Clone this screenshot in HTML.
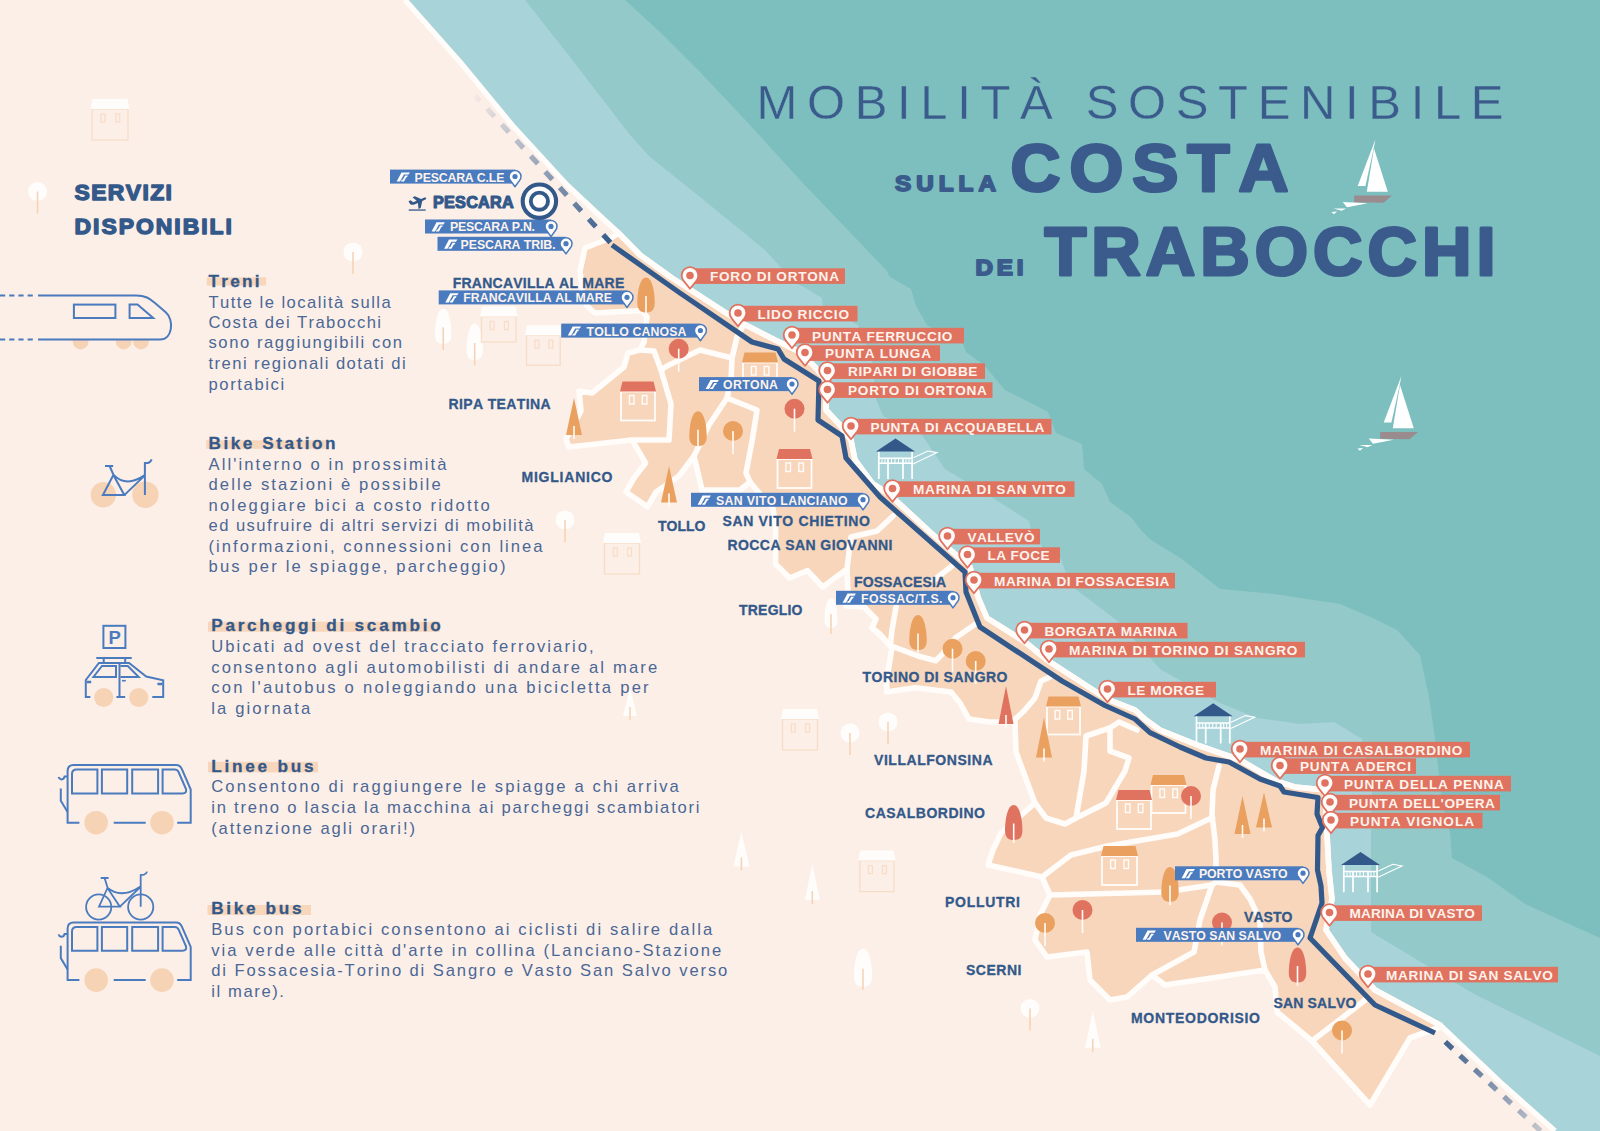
<!DOCTYPE html>
<html><head><meta charset="utf-8"><title>Costa dei Trabocchi</title>
<style>html,body{margin:0;padding:0;background:#fcefe7}body{width:1600px;height:1131px;overflow:hidden;font-family:"Liberation Sans",sans-serif}</style></head>
<body>
<svg width="1600" height="1131" viewBox="0 0 1600 1131" font-family="Liberation Sans, sans-serif" style="display:block;font-kerning:none">
<defs>
<linearGradient id="gd1" gradientUnits="userSpaceOnUse" x1="470" y1="90" x2="612" y2="245"><stop offset="0" stop-color="#33598a" stop-opacity="0"/><stop offset="0.12" stop-color="#33598a" stop-opacity="0.12"/><stop offset="1" stop-color="#33598a" stop-opacity="1"/></linearGradient>
<linearGradient id="gd2" gradientUnits="userSpaceOnUse" x1="1435" y1="1033" x2="1545" y2="1136"><stop offset="0" stop-color="#33598a" stop-opacity="1"/><stop offset="1" stop-color="#33598a" stop-opacity="0.25"/></linearGradient>
</defs>
<rect width="1600" height="1131" fill="#fcefe7"/>
<polygon fill="#a8d3d9" points="405.0,0.0 460.0,62.0 512.0,125.0 567.0,185.0 598.5,214.5 618.0,232.5 640.0,255.0 672.0,278.0 700.0,296.0 740.0,322.0 775.0,340.0 800.0,352.0 815.0,367.0 826.0,380.0 826.0,410.0 840.0,425.0 851.0,440.0 855.0,460.0 872.0,483.0 890.0,495.0 930.0,532.0 970.0,567.0 978.0,597.0 987.0,618.0 1025.0,642.0 1047.0,660.0 1107.0,699.0 1135.0,710.0 1146.0,720.0 1160.0,730.0 1200.0,746.0 1240.0,760.0 1276.0,781.0 1295.0,787.0 1325.0,790.0 1326.0,815.0 1327.0,834.0 1329.0,871.0 1332.0,899.0 1326.0,930.0 1345.0,958.0 1375.0,990.0 1440.0,1025.0 1500.0,1082.0 1555.0,1131.0 1600.0,1131.0 1600.0,0.0"/>
<polygon fill="#94c9c9" points="525.0,0.0 570.0,57.0 630.0,135.0 650.0,157.0 700.0,197.0 765.0,250.0 795.0,283.0 806.0,288.0 822.0,298.0 823.0,306.0 858.0,325.0 872.0,360.0 876.0,399.0 883.0,416.0 922.0,435.0 945.0,469.0 996.0,500.0 1029.0,521.0 1031.0,531.0 1044.0,549.0 1061.0,559.0 1070.0,585.0 1119.0,622.0 1160.0,669.0 1220.0,703.0 1257.0,718.0 1300.0,724.0 1334.0,722.0 1362.0,739.0 1372.0,790.0 1371.0,834.0 1371.0,932.0 1474.0,994.0 1600.0,1056.0 1600.0,0.0"/>
<polygon fill="#7dbfbe" points="625.0,0.0 660.0,32.0 700.0,72.0 750.0,125.0 800.0,180.0 886.0,270.0 890.0,277.0 911.0,289.0 916.0,306.0 927.0,325.0 963.0,344.0 966.0,352.0 984.0,365.0 1005.0,390.0 1027.0,401.0 1048.0,412.0 1056.0,433.0 1082.0,444.0 1084.0,469.0 1102.0,484.0 1110.0,502.0 1131.0,517.0 1140.0,529.0 1151.0,540.0 1182.0,559.0 1220.0,589.0 1274.0,594.0 1340.0,604.0 1375.0,619.0 1397.0,630.0 1420.0,655.0 1429.0,697.0 1435.0,739.0 1442.0,802.0 1450.0,832.0 1452.0,858.0 1487.0,877.0 1525.0,904.0 1600.0,938.0 1600.0,0.0"/>
<polygon fill="#f7d6bc" stroke="#fffcf9" stroke-width="5.6" stroke-linejoin="round" points="613.0,237.0 585.0,248.0 580.0,271.0 583.0,295.0 587.0,306.0 595.0,313.0 642.0,310.5 647.0,317.0 644.0,342.0 640.0,350.0 628.0,353.0 624.0,367.0 592.0,393.0 579.0,391.0 581.0,411.0 572.0,428.0 566.0,439.0 569.0,447.0 632.0,440.0 645.5,463.0 634.0,478.0 626.0,492.0 647.6,506.7 656.0,492.0 679.0,476.0 694.0,456.0 702.0,490.0 740.0,490.0 750.0,482.0 765.0,500.0 773.0,508.0 775.6,527.0 775.6,564.0 789.6,578.0 807.5,570.6 822.7,587.0 847.0,569.0 848.0,590.0 846.0,606.0 864.0,607.0 876.0,619.0 872.0,628.0 885.0,640.0 892.0,647.0 890.0,660.0 887.0,678.0 886.6,692.0 915.0,687.7 951.0,692.0 960.0,703.0 969.0,719.0 990.0,722.0 1015.0,722.0 1016.0,752.0 1035.0,803.0 1001.0,833.0 993.0,850.0 988.0,865.0 1042.0,877.0 1050.0,895.0 1040.0,915.0 1035.0,940.0 1047.0,957.0 1087.0,952.0 1090.0,980.0 1110.0,1000.0 1127.0,997.0 1152.0,975.0 1165.0,985.0 1265.0,970.0 1275.0,987.0 1277.0,1012.0 1312.0,1041.0 1370.0,1105.0 1410.0,1038.0 1440.0,1027.0 1440.0,1025.0 1375.0,990.0 1345.0,958.0 1326.0,930.0 1332.0,899.0 1329.0,871.0 1327.0,834.0 1326.0,815.0 1325.0,790.0 1295.0,787.0 1276.0,781.0 1240.0,760.0 1200.0,746.0 1160.0,730.0 1146.0,720.0 1135.0,710.0 1107.0,699.0 1047.0,660.0 1025.0,642.0 987.0,618.0 978.0,597.0 970.0,567.0 930.0,532.0 890.0,495.0 872.0,483.0 855.0,460.0 851.0,440.0 840.0,425.0 826.0,410.0 826.0,380.0 815.0,367.0 800.0,352.0 775.0,340.0 740.0,322.0 700.0,296.0 672.0,278.0 640.0,255.0 618.0,232.5"/>
<polyline fill="none" stroke="#fffcf9" stroke-width="5.6" stroke-linejoin="round" stroke-linecap="round" points="640.0,350.0 654.0,351.0 661.0,370.0 671.0,404.0 669.0,440.0 632.0,440.0"/>
<polyline fill="none" stroke="#fffcf9" stroke-width="5.6" stroke-linejoin="round" stroke-linecap="round" points="661.0,370.0 667.0,366.0 700.0,350.0 732.0,358.0 737.0,337.0 743.0,326.0"/>
<polyline fill="none" stroke="#fffcf9" stroke-width="5.6" stroke-linejoin="round" stroke-linecap="round" points="732.0,358.0 731.0,380.0 727.0,398.0"/>
<polyline fill="none" stroke="#fffcf9" stroke-width="5.6" stroke-linejoin="round" stroke-linecap="round" points="727.0,398.0 709.0,425.0 694.0,456.0"/>
<polyline fill="none" stroke="#fffcf9" stroke-width="5.6" stroke-linejoin="round" stroke-linecap="round" points="727.0,398.0 757.0,410.0 752.6,438.0 746.0,473.0 750.0,482.0"/>
<polyline fill="none" stroke="#fffcf9" stroke-width="5.6" stroke-linejoin="round" stroke-linecap="round" points="893.0,516.0 877.0,531.0 851.0,537.0 849.0,553.0 847.0,569.0"/>
<polyline fill="none" stroke="#fffcf9" stroke-width="5.6" stroke-linejoin="round" stroke-linecap="round" points="975.5,624.0 955.6,637.7 942.8,653.6 935.7,660.8 918.0,656.0 890.3,645.7 892.0,630.0 896.0,607.0"/>
<polyline fill="none" stroke="#fffcf9" stroke-width="5.6" stroke-linejoin="round" stroke-linecap="round" points="890.0,646.0 880.0,634.0 872.0,628.0"/>
<polyline fill="none" stroke="#fffcf9" stroke-width="5.6" stroke-linejoin="round" stroke-linecap="round" points="952.0,566.0 934.0,580.0"/>
<polyline fill="none" stroke="#fffcf9" stroke-width="5.6" stroke-linejoin="round" stroke-linecap="round" points="1050.0,677.0 1041.0,681.0 1035.0,698.0 1024.0,711.0 1014.0,720.0"/>
<polyline fill="none" stroke="#fffcf9" stroke-width="5.6" stroke-linejoin="round" stroke-linecap="round" points="1035.0,803.0 1046.0,818.0 1065.0,824.0 1076.0,818.0 1084.0,771.0 1086.0,736.0 1110.0,728.0 1119.0,722.0 1137.0,730.0"/>
<polyline fill="none" stroke="#fffcf9" stroke-width="5.6" stroke-linejoin="round" stroke-linecap="round" points="1110.0,728.0 1110.0,751.0 1129.0,758.0 1125.0,771.0 1106.0,803.0 1076.0,818.0"/>
<polyline fill="none" stroke="#fffcf9" stroke-width="5.6" stroke-linejoin="round" stroke-linecap="round" points="1219.0,766.0 1213.0,790.0 1212.0,815.0 1215.0,840.0 1216.0,860.0 1216.0,882.0"/>
<polyline fill="none" stroke="#fffcf9" stroke-width="5.6" stroke-linejoin="round" stroke-linecap="round" points="1042.0,877.0 1071.0,855.0 1107.5,846.0 1177.5,834.0 1212.5,817.5"/>
<polyline fill="none" stroke="#fffcf9" stroke-width="5.6" stroke-linejoin="round" stroke-linecap="round" points="1050.0,895.0 1165.0,892.0 1212.0,885.0 1216.0,882.0"/>
<polyline fill="none" stroke="#fffcf9" stroke-width="5.6" stroke-linejoin="round" stroke-linecap="round" points="1212.0,885.0 1200.0,920.0 1194.0,952.0 1152.0,975.0"/>
<polyline fill="none" stroke="#fffcf9" stroke-width="5.6" stroke-linejoin="round" stroke-linecap="round" points="1216.0,882.0 1240.0,885.0 1250.0,899.0 1260.0,920.0 1261.0,952.0 1265.0,970.0"/>
<polyline fill="none" stroke="#fffcf9" stroke-width="5.6" stroke-linejoin="round" stroke-linecap="round" points="1312.0,1041.0 1355.0,1008.0 1365.0,1000.0"/>
<polyline fill="none" stroke="#fffcf9" stroke-width="5.5" stroke-linejoin="round" points="405.0,0.0 460.0,62.0 512.0,125.0 567.0,185.0 598.5,214.5 618.0,232.5 640.0,255.0 672.0,278.0 700.0,296.0 740.0,322.0 775.0,340.0 800.0,352.0 815.0,367.0 826.0,380.0 826.0,410.0 840.0,425.0 851.0,440.0 855.0,460.0 872.0,483.0 890.0,495.0 930.0,532.0 970.0,567.0 978.0,597.0 987.0,618.0 1025.0,642.0 1047.0,660.0 1107.0,699.0 1135.0,710.0 1146.0,720.0 1160.0,730.0 1200.0,746.0 1240.0,760.0 1276.0,781.0 1295.0,787.0 1325.0,790.0 1326.0,815.0 1327.0,834.0 1329.0,871.0 1332.0,899.0 1326.0,930.0 1345.0,958.0 1375.0,990.0 1440.0,1025.0 1500.0,1082.0 1555.0,1131.0"/>
<rect x="92.0" y="109.0" width="36.0" height="31.0" fill="none" stroke="#f7dcc6" stroke-width="1.3"/>
<polygon fill="#fffdfb" points="92.5,99.0 127.5,99.0 129.5,109.0 90.5,109.0"/>
<rect x="101.0" y="114.0" width="4" height="8" fill="none" stroke="#f7dcc6" stroke-width="1.2"/>
<rect x="115.8" y="114.0" width="4" height="8" fill="none" stroke="#f7dcc6" stroke-width="1.2"/>
<circle cx="37.5" cy="191.5" r="9.5" fill="#fffdfb"/>
<line x1="37.5" y1="191.5" x2="37.5" y2="213.5" stroke="#f6d3b7" stroke-width="1.6"/>
<circle cx="353.0" cy="252.0" r="9.5" fill="#fffdfb"/>
<line x1="353.0" y1="252.0" x2="353.0" y2="274.0" stroke="#f6d3b7" stroke-width="1.6"/>
<path fill="#fffdfb" d="M443.2,308.7 C449.3,308.7 451.4,324.5 451.4,334.2 C451.4,341.3 448.1,343.9 443.2,343.9 C438.3,343.9 435.0,341.3 435.0,334.2 C435.0,324.5 437.1,308.7 443.2,308.7 Z"/>
<line x1="443.2" y1="327.3" x2="443.2" y2="349.9" stroke="#f6d3b7" stroke-width="1.6"/>
<path fill="#fffdfb" d="M474.7,323.6 C480.8,323.6 482.9,340.2 482.9,350.3 C482.9,357.6 479.6,360.4 474.7,360.4 C469.8,360.4 466.5,357.6 466.5,350.3 C466.5,340.2 468.6,323.6 474.7,323.6 Z"/>
<line x1="474.7" y1="343.0" x2="474.7" y2="365.4" stroke="#f6d3b7" stroke-width="1.6"/>
<rect x="481.5" y="316.5" width="34.5" height="25.5" fill="none" stroke="#f7dcc6" stroke-width="1.3"/>
<polygon fill="#fffdfb" points="482.0,306.5 515.5,306.5 517.5,316.5 480.0,316.5"/>
<rect x="490.1" y="321.5" width="4" height="8" fill="none" stroke="#f7dcc6" stroke-width="1.2"/>
<rect x="504.4" y="321.5" width="4" height="8" fill="none" stroke="#f7dcc6" stroke-width="1.2"/>
<rect x="526.5" y="335.2" width="33.7" height="30.0" fill="none" stroke="#f7dcc6" stroke-width="1.3"/>
<polygon fill="#fffdfb" points="527.0,325.2 559.7,325.2 561.7,335.2 525.0,335.2"/>
<rect x="534.9" y="340.2" width="4" height="8" fill="none" stroke="#f7dcc6" stroke-width="1.2"/>
<rect x="548.9" y="340.2" width="4" height="8" fill="none" stroke="#f7dcc6" stroke-width="1.2"/>
<circle cx="565.0" cy="520.0" r="9.5" fill="#fffdfb"/>
<line x1="565.0" y1="520.0" x2="565.0" y2="542.0" stroke="#f6d3b7" stroke-width="1.6"/>
<rect x="604.5" y="543.0" width="35.0" height="31.0" fill="none" stroke="#f7dcc6" stroke-width="1.3"/>
<polygon fill="#fffdfb" points="605.0,533.0 639.0,533.0 641.0,543.0 603.0,543.0"/>
<rect x="613.3" y="548.0" width="4" height="8" fill="none" stroke="#f7dcc6" stroke-width="1.2"/>
<rect x="627.7" y="548.0" width="4" height="8" fill="none" stroke="#f7dcc6" stroke-width="1.2"/>
<polygon fill="#fffdfb" points="630.0,688.0 637.0,716.0 623.0,716.0"/>
<line x1="630.0" y1="707.0" x2="630.0" y2="720.0" stroke="#f6d3b7" stroke-width="1.6"/>
<path fill="#fffdfb" d="M831.0,598.0 C835.9,598.0 837.5,611.5 837.5,619.8 C837.5,625.8 834.9,628.0 831.0,628.0 C827.1,628.0 824.5,625.8 824.5,619.8 C824.5,611.5 826.1,598.0 831.0,598.0 Z"/>
<line x1="831.0" y1="614.0" x2="831.0" y2="634.0" stroke="#f6d3b7" stroke-width="1.6"/>
<rect x="782.5" y="719.0" width="35.0" height="31.0" fill="none" stroke="#f7dcc6" stroke-width="1.3"/>
<polygon fill="#fffdfb" points="783.0,709.0 817.0,709.0 819.0,719.0 781.0,719.0"/>
<rect x="791.3" y="724.0" width="4" height="8" fill="none" stroke="#f7dcc6" stroke-width="1.2"/>
<rect x="805.7" y="724.0" width="4" height="8" fill="none" stroke="#f7dcc6" stroke-width="1.2"/>
<circle cx="850.0" cy="733.0" r="9.5" fill="#fffdfb"/>
<line x1="850.0" y1="733.0" x2="850.0" y2="755.0" stroke="#f6d3b7" stroke-width="1.6"/>
<circle cx="888.0" cy="722.0" r="9.5" fill="#fffdfb"/>
<line x1="888.0" y1="722.0" x2="888.0" y2="744.0" stroke="#f6d3b7" stroke-width="1.6"/>
<polygon fill="#fffdfb" points="741.4,832.0 749.4,866.4 733.4,866.4"/>
<line x1="741.4" y1="857.4" x2="741.4" y2="870.4" stroke="#f6d3b7" stroke-width="1.6"/>
<polygon fill="#fffdfb" points="812.3,864.6 819.8,900.0 804.8,900.0"/>
<line x1="812.3" y1="891.0" x2="812.3" y2="904.0" stroke="#f6d3b7" stroke-width="1.6"/>
<rect x="859.8" y="860.6" width="34.2" height="31.0" fill="none" stroke="#f7dcc6" stroke-width="1.3"/>
<polygon fill="#fffdfb" points="860.3,850.6 893.5,850.6 895.5,860.6 858.3,860.6"/>
<rect x="868.3" y="865.6" width="4" height="8" fill="none" stroke="#f7dcc6" stroke-width="1.2"/>
<rect x="882.5" y="865.6" width="4" height="8" fill="none" stroke="#f7dcc6" stroke-width="1.2"/>
<path fill="#fffdfb" d="M863.0,948.7 C869.8,948.7 872.0,965.8 872.0,976.2 C872.0,983.9 868.4,986.7 863.0,986.7 C857.6,986.7 854.0,983.9 854.0,976.2 C854.0,965.8 856.2,948.7 863.0,948.7 Z"/>
<line x1="863.0" y1="968.7" x2="863.0" y2="989.7" stroke="#f6d3b7" stroke-width="1.6"/>
<circle cx="1030.0" cy="1008.4" r="9.4" fill="#fffdfb"/>
<line x1="1030.0" y1="1008.4" x2="1030.0" y2="1030.4" stroke="#f6d3b7" stroke-width="1.6"/>
<polygon fill="#fffdfb" points="1092.8,1011.0 1100.7,1047.8 1084.9,1047.8"/>
<line x1="1092.8" y1="1038.8" x2="1092.8" y2="1051.8" stroke="#f6d3b7" stroke-width="1.6"/>
<path fill="#eaa05e" d="M646.0,277.5 C652.5,277.5 654.7,293.2 654.7,302.9 C654.7,309.9 651.2,312.5 646.0,312.5 C640.8,312.5 637.3,309.9 637.3,302.9 C637.3,293.2 639.5,277.5 646.0,277.5 Z"/>
<line x1="646.0" y1="296.0" x2="646.0" y2="315.5" stroke="#fffcf9" stroke-width="1.6"/>
<circle cx="678.7" cy="348.7" r="10.0" fill="#e07260"/>
<line x1="678.7" y1="348.7" x2="678.7" y2="371.7" stroke="#fffcf9" stroke-width="1.6"/>
<rect x="621.0" y="391.5" width="34.0" height="29.0" fill="none" stroke="#fffcf9" stroke-width="1.8"/>
<polygon fill="#e07260" points="622.5,381.5 653.5,381.5 656.0,391.5 620.0,391.5"/>
<rect x="629.4" y="395.5" width="4.6" height="8.5" fill="none" stroke="#fffcf9" stroke-width="1.4"/>
<rect x="642.3" y="395.5" width="4.6" height="8.5" fill="none" stroke="#fffcf9" stroke-width="1.4"/>
<polygon fill="#eaa05e" points="574.0,398.0 582.0,435.0 566.0,435.0"/>
<line x1="574.0" y1="426.0" x2="574.0" y2="439.0" stroke="#fffcf9" stroke-width="1.6"/>
<path fill="#eaa05e" d="M698.0,411.2 C704.5,411.2 706.7,426.9 706.7,436.6 C706.7,443.6 703.2,446.2 698.0,446.2 C692.8,446.2 689.3,443.6 689.3,436.6 C689.3,426.9 691.5,411.2 698.0,411.2 Z"/>
<line x1="698.0" y1="429.7" x2="698.0" y2="449.2" stroke="#fffcf9" stroke-width="1.6"/>
<circle cx="733.0" cy="431.0" r="10.0" fill="#eaa05e"/>
<line x1="733.0" y1="431.0" x2="733.0" y2="454.0" stroke="#fffcf9" stroke-width="1.6"/>
<circle cx="794.5" cy="408.7" r="10.0" fill="#e07260"/>
<line x1="794.5" y1="408.7" x2="794.5" y2="431.7" stroke="#fffcf9" stroke-width="1.6"/>
<polygon fill="#eaa05e" points="669.0,466.0 677.0,502.5 661.0,502.5"/>
<line x1="669.0" y1="493.5" x2="669.0" y2="506.5" stroke="#fffcf9" stroke-width="1.6"/>
<rect x="743.0" y="362.5" width="34.0" height="26.0" fill="none" stroke="#fffcf9" stroke-width="1.8"/>
<polygon fill="#eaa05e" points="744.5,352.5 775.5,352.5 778.0,362.5 742.0,362.5"/>
<rect x="751.4" y="366.5" width="4.6" height="8.5" fill="none" stroke="#fffcf9" stroke-width="1.4"/>
<rect x="764.3" y="366.5" width="4.6" height="8.5" fill="none" stroke="#fffcf9" stroke-width="1.4"/>
<rect x="777.5" y="459.0" width="34.0" height="29.0" fill="none" stroke="#fffcf9" stroke-width="1.8"/>
<polygon fill="#e07260" points="779.0,449.0 810.0,449.0 812.5,459.0 776.5,459.0"/>
<rect x="785.9" y="463.0" width="4.6" height="8.5" fill="none" stroke="#fffcf9" stroke-width="1.4"/>
<rect x="798.8" y="463.0" width="4.6" height="8.5" fill="none" stroke="#fffcf9" stroke-width="1.4"/>
<path fill="#eaa05e" d="M918.0,615.0 C924.5,615.0 926.7,630.8 926.7,640.4 C926.7,647.4 923.2,650.0 918.0,650.0 C912.8,650.0 909.3,647.4 909.3,640.4 C909.3,630.8 911.5,615.0 918.0,615.0 Z"/>
<line x1="918.0" y1="633.5" x2="918.0" y2="653.0" stroke="#fffcf9" stroke-width="1.6"/>
<circle cx="952.5" cy="648.7" r="10.0" fill="#eaa05e"/>
<line x1="952.5" y1="648.7" x2="952.5" y2="671.7" stroke="#fffcf9" stroke-width="1.6"/>
<circle cx="975.7" cy="661.0" r="10.0" fill="#eaa05e"/>
<line x1="975.7" y1="661.0" x2="975.7" y2="684.0" stroke="#fffcf9" stroke-width="1.6"/>
<polygon fill="#e07260" points="1006.0,686.0 1013.5,724.0 998.5,724.0"/>
<line x1="1006.0" y1="715.0" x2="1006.0" y2="728.0" stroke="#fffcf9" stroke-width="1.6"/>
<rect x="1047.0" y="706.5" width="33.0" height="28.0" fill="none" stroke="#fffcf9" stroke-width="1.8"/>
<polygon fill="#eaa05e" points="1048.5,696.5 1078.5,696.5 1081.0,706.5 1046.0,706.5"/>
<rect x="1055.1" y="710.5" width="4.6" height="8.5" fill="none" stroke="#fffcf9" stroke-width="1.4"/>
<rect x="1067.7" y="710.5" width="4.6" height="8.5" fill="none" stroke="#fffcf9" stroke-width="1.4"/>
<polygon fill="#eaa05e" points="1044.0,717.5 1052.0,757.5 1036.0,757.5"/>
<line x1="1044.0" y1="748.5" x2="1044.0" y2="761.5" stroke="#fffcf9" stroke-width="1.6"/>
<path fill="#e07260" d="M1013.7,805.0 C1020.2,805.0 1022.4,820.8 1022.4,830.4 C1022.4,837.4 1018.9,840.0 1013.7,840.0 C1008.5,840.0 1005.0,837.4 1005.0,830.4 C1005.0,820.8 1007.2,805.0 1013.7,805.0 Z"/>
<line x1="1013.7" y1="823.5" x2="1013.7" y2="843.0" stroke="#fffcf9" stroke-width="1.6"/>
<rect x="1151.5" y="785.0" width="34.0" height="28.0" fill="none" stroke="#fffcf9" stroke-width="1.8"/>
<polygon fill="#eaa05e" points="1153.0,775.0 1184.0,775.0 1186.5,785.0 1150.5,785.0"/>
<rect x="1159.9" y="789.0" width="4.6" height="8.5" fill="none" stroke="#fffcf9" stroke-width="1.4"/>
<rect x="1172.8" y="789.0" width="4.6" height="8.5" fill="none" stroke="#fffcf9" stroke-width="1.4"/>
<rect x="1117.0" y="800.0" width="34.0" height="29.0" fill="none" stroke="#fffcf9" stroke-width="1.8"/>
<polygon fill="#e07260" points="1118.5,790.0 1149.5,790.0 1152.0,800.0 1116.0,800.0"/>
<rect x="1125.4" y="804.0" width="4.6" height="8.5" fill="none" stroke="#fffcf9" stroke-width="1.4"/>
<rect x="1138.3" y="804.0" width="4.6" height="8.5" fill="none" stroke="#fffcf9" stroke-width="1.4"/>
<circle cx="1191.0" cy="796.0" r="10.0" fill="#e07260"/>
<line x1="1191.0" y1="796.0" x2="1191.0" y2="819.0" stroke="#fffcf9" stroke-width="1.6"/>
<polygon fill="#eaa05e" points="1242.5,796.0 1250.5,834.0 1234.5,834.0"/>
<line x1="1242.5" y1="825.0" x2="1242.5" y2="838.0" stroke="#fffcf9" stroke-width="1.6"/>
<polygon fill="#eaa05e" points="1264.0,792.5 1272.0,827.5 1256.0,827.5"/>
<line x1="1264.0" y1="818.5" x2="1264.0" y2="831.5" stroke="#fffcf9" stroke-width="1.6"/>
<rect x="1102.0" y="856.0" width="35.0" height="29.0" fill="none" stroke="#fffcf9" stroke-width="1.8"/>
<polygon fill="#eaa05e" points="1103.5,846.0 1135.5,846.0 1138.0,856.0 1101.0,856.0"/>
<rect x="1110.6" y="860.0" width="4.6" height="8.5" fill="none" stroke="#fffcf9" stroke-width="1.4"/>
<rect x="1123.9" y="860.0" width="4.6" height="8.5" fill="none" stroke="#fffcf9" stroke-width="1.4"/>
<path fill="#eaa05e" d="M1170.0,866.9 C1176.5,866.9 1178.7,882.6 1178.7,892.3 C1178.7,899.3 1175.2,901.9 1170.0,901.9 C1164.8,901.9 1161.3,899.3 1161.3,892.3 C1161.3,882.6 1163.5,866.9 1170.0,866.9 Z"/>
<line x1="1170.0" y1="885.4" x2="1170.0" y2="904.9" stroke="#fffcf9" stroke-width="1.6"/>
<circle cx="1082.5" cy="910.0" r="10.0" fill="#e07260"/>
<line x1="1082.5" y1="910.0" x2="1082.5" y2="933.0" stroke="#fffcf9" stroke-width="1.6"/>
<circle cx="1045.0" cy="923.0" r="10.0" fill="#eaa05e"/>
<line x1="1045.0" y1="923.0" x2="1045.0" y2="946.0" stroke="#fffcf9" stroke-width="1.6"/>
<circle cx="1222.0" cy="922.5" r="10.0" fill="#e07260"/>
<line x1="1222.0" y1="922.5" x2="1222.0" y2="945.5" stroke="#fffcf9" stroke-width="1.6"/>
<path fill="#e07260" d="M1297.5,947.5 C1304.0,947.5 1306.2,963.2 1306.2,972.9 C1306.2,979.9 1302.7,982.5 1297.5,982.5 C1292.3,982.5 1288.8,979.9 1288.8,972.9 C1288.8,963.2 1291.0,947.5 1297.5,947.5 Z"/>
<line x1="1297.5" y1="966.0" x2="1297.5" y2="985.5" stroke="#fffcf9" stroke-width="1.6"/>
<circle cx="1342.0" cy="1030.5" r="10.0" fill="#eaa05e"/>
<line x1="1342.0" y1="1030.5" x2="1342.0" y2="1053.5" stroke="#fffcf9" stroke-width="1.6"/>
<polyline fill="none" stroke="#33598a" stroke-width="5.2" stroke-linejoin="round" points="612.0,245.0 680.0,293.0 752.0,342.0 778.0,349.0 784.0,359.0 819.0,381.0 818.0,420.0 842.0,436.0 846.0,458.0 880.0,497.0 965.0,572.0 966.0,592.0 980.0,627.0 1062.0,681.0 1105.0,705.5 1135.0,719.0 1150.0,732.6 1180.0,747.0 1206.0,758.0 1229.0,762.0 1260.0,779.0 1280.0,786.0 1284.0,792.0 1318.0,797.5 1317.0,814.0 1322.5,827.5 1318.0,835.5 1317.5,870.0 1321.0,886.0 1322.0,903.0 1310.0,938.0 1375.0,1005.0 1435.0,1033.0"/>
<line x1="610.3" y1="242.4" x2="475" y2="95.4" stroke="url(#gd1)" stroke-width="5.2" stroke-dasharray="10.5 10.9"/>
<line x1="1445.3" y1="1041.9" x2="1548" y2="1137.8" stroke="url(#gd2)" stroke-width="5.2" stroke-dasharray="10 10.07"/>
<g transform="translate(0.0,0.0)" stroke="#ffffff" fill="none">
<polygon points="876,451.6 895.5,438.6 915,451.6" fill="#33598a" stroke="none"/>
<path d="M878.8,452 V479 M912.1,452 V479 M888,458.3 V479 M903,458.3 V479" stroke-width="1.7"/>
<path d="M878.8,458.3 H912.1 M878.8,463.3 H912.1" stroke-width="1.5"/>
<path d="M882,458.3 V463.3 M885,458.3 V463.3 M891.5,458.3 V463.3 M895,458.3 V463.3 M898.5,458.3 V463.3 M906,458.3 V463.3 M909,458.3 V463.3" stroke-width="1"/>
<path d="M913,464 L937,452.6 L927.8,451 L913.4,457.7" stroke-width="1.1"/>
</g>
<g transform="translate(317.7,264.6)" stroke="#ffffff" fill="none">
<polygon points="876,451.6 895.5,438.6 915,451.6" fill="#33598a" stroke="none"/>
<path d="M878.8,452 V479 M912.1,452 V479 M888,458.3 V479 M903,458.3 V479" stroke-width="1.7"/>
<path d="M878.8,458.3 H912.1 M878.8,463.3 H912.1" stroke-width="1.5"/>
<path d="M882,458.3 V463.3 M885,458.3 V463.3 M891.5,458.3 V463.3 M895,458.3 V463.3 M898.5,458.3 V463.3 M906,458.3 V463.3 M909,458.3 V463.3" stroke-width="1"/>
<path d="M913,464 L937,452.6 L927.8,451 L913.4,457.7" stroke-width="1.1"/>
</g>
<g transform="translate(465.0,413.3)" stroke="#ffffff" fill="none">
<polygon points="876,451.6 895.5,438.6 915,451.6" fill="#33598a" stroke="none"/>
<path d="M878.8,452 V479 M912.1,452 V479 M888,458.3 V479 M903,458.3 V479" stroke-width="1.7"/>
<path d="M878.8,458.3 H912.1 M878.8,463.3 H912.1" stroke-width="1.5"/>
<path d="M882,458.3 V463.3 M885,458.3 V463.3 M891.5,458.3 V463.3 M895,458.3 V463.3 M898.5,458.3 V463.3 M906,458.3 V463.3 M909,458.3 V463.3" stroke-width="1"/>
<path d="M913,464 L937,452.6 L927.8,451 L913.4,457.7" stroke-width="1.1"/>
</g>
<g transform="translate(0.0,0.0)">
<polygon fill="#ffffff" points="1375.4,139.6 1357.7,185.9 1365.4,186 1373.4,150"/>
<polygon fill="#ffffff" points="1374,148.5 1366.8,191.8 1387.8,191.8"/>
<polygon fill="#9a8b8e" points="1354.2,195.6 1392,195.6 1383.6,202.8 1354.2,202.2"/>
<path d="M1342.7,202 L1367.7,203.2 L1347,207.2 Z M1333.5,208.4 L1346.3,208.4 L1341.5,210.7 Z M1331.5,212 L1337.1,211.5 L1333.9,214.3 Z" fill="#ffffff"/>
</g>
<g transform="translate(26.0,236.5)">
<polygon fill="#ffffff" points="1375.4,139.6 1357.7,185.9 1365.4,186 1373.4,150"/>
<polygon fill="#ffffff" points="1374,148.5 1366.8,191.8 1387.8,191.8"/>
<polygon fill="#9a8b8e" points="1354.2,195.6 1392,195.6 1383.6,202.8 1354.2,202.2"/>
<path d="M1342.7,202 L1367.7,203.2 L1347,207.2 Z M1333.5,208.4 L1346.3,208.4 L1341.5,210.7 Z M1331.5,212 L1337.1,211.5 L1333.9,214.3 Z" fill="#ffffff"/>
</g>
<text x="452.7" y="287.7" font-size="14.00" font-weight="700" fill="#33598a" letter-spacing="0.244" text-anchor="start" stroke="#33598a" stroke-width="0.30" stroke-linejoin="round" >FRANCAVILLA AL MARE</text>
<text x="448.5" y="409.3" font-size="14.00" font-weight="700" fill="#33598a" letter-spacing="0.363" text-anchor="start" stroke="#33598a" stroke-width="0.30" stroke-linejoin="round" >RIPA TEATINA</text>
<text x="521.5" y="481.8" font-size="14.00" font-weight="700" fill="#33598a" letter-spacing="0.779" text-anchor="start" stroke="#33598a" stroke-width="0.30" stroke-linejoin="round" >MIGLIANICO</text>
<text x="658.0" y="530.5" font-size="14.00" font-weight="700" fill="#33598a" letter-spacing="0.016" text-anchor="start" stroke="#33598a" stroke-width="0.30" stroke-linejoin="round" >TOLLO</text>
<text x="722.5" y="526.0" font-size="14.00" font-weight="700" fill="#33598a" letter-spacing="0.663" text-anchor="start" stroke="#33598a" stroke-width="0.30" stroke-linejoin="round" >SAN VITO CHIETINO</text>
<text x="727.5" y="549.5" font-size="14.00" font-weight="700" fill="#33598a" letter-spacing="0.418" text-anchor="start" stroke="#33598a" stroke-width="0.30" stroke-linejoin="round" >ROCCA SAN GIOVANNI</text>
<text x="854.0" y="587.0" font-size="14.00" font-weight="700" fill="#33598a" letter-spacing="0.109" text-anchor="start" stroke="#33598a" stroke-width="0.30" stroke-linejoin="round" >FOSSACESIA</text>
<text x="739.0" y="614.5" font-size="14.00" font-weight="700" fill="#33598a" letter-spacing="0.213" text-anchor="start" stroke="#33598a" stroke-width="0.30" stroke-linejoin="round" >TREGLIO</text>
<text x="862.5" y="682.0" font-size="14.00" font-weight="700" fill="#33598a" letter-spacing="0.489" text-anchor="start" stroke="#33598a" stroke-width="0.30" stroke-linejoin="round" >TORINO DI SANGRO</text>
<text x="874.0" y="764.8" font-size="14.00" font-weight="700" fill="#33598a" letter-spacing="0.542" text-anchor="start" stroke="#33598a" stroke-width="0.30" stroke-linejoin="round" >VILLALFONSINA</text>
<text x="865.0" y="817.5" font-size="14.00" font-weight="700" fill="#33598a" letter-spacing="0.515" text-anchor="start" stroke="#33598a" stroke-width="0.30" stroke-linejoin="round" >CASALBORDINO</text>
<text x="945.0" y="906.5" font-size="14.00" font-weight="700" fill="#33598a" letter-spacing="0.715" text-anchor="start" stroke="#33598a" stroke-width="0.30" stroke-linejoin="round" >POLLUTRI</text>
<text x="966.0" y="974.5" font-size="14.00" font-weight="700" fill="#33598a" letter-spacing="0.520" text-anchor="start" stroke="#33598a" stroke-width="0.30" stroke-linejoin="round" >SCERNI</text>
<text x="1131.0" y="1023.0" font-size="14.00" font-weight="700" fill="#33598a" letter-spacing="0.703" text-anchor="start" stroke="#33598a" stroke-width="0.30" stroke-linejoin="round" >MONTEODORISIO</text>
<text x="1273.5" y="1007.5" font-size="14.00" font-weight="700" fill="#33598a" letter-spacing="0.165" text-anchor="start" stroke="#33598a" stroke-width="0.30" stroke-linejoin="round" >SAN SALVO</text>
<text x="1244.0" y="922.0" font-size="14.00" font-weight="700" fill="#33598a" letter-spacing="0.068" text-anchor="start" stroke="#33598a" stroke-width="0.30" stroke-linejoin="round" >VASTO</text>
<rect x="690.0" y="268.3" width="155.0" height="15.6" fill="#e07260"/>
<rect x="738.0" y="305.8" width="119.5" height="15.6" fill="#e07260"/>
<rect x="792.0" y="327.8" width="172.0" height="15.6" fill="#e07260"/>
<rect x="805.0" y="345.3" width="135.0" height="15.6" fill="#e07260"/>
<rect x="827.5" y="363.3" width="157.5" height="15.6" fill="#e07260"/>
<rect x="827.5" y="382.3" width="165.0" height="15.6" fill="#e07260"/>
<rect x="851.0" y="418.8" width="200.5" height="15.6" fill="#e07260"/>
<rect x="892.5" y="481.3" width="182.0" height="15.6" fill="#e07260"/>
<rect x="947.5" y="528.8" width="92.5" height="15.6" fill="#e07260"/>
<rect x="967.5" y="547.3" width="92.5" height="15.6" fill="#e07260"/>
<rect x="974.0" y="572.8" width="201.0" height="15.6" fill="#e07260"/>
<rect x="1024.5" y="622.8" width="163.0" height="15.6" fill="#e07260"/>
<rect x="1049.0" y="641.8" width="256.0" height="15.6" fill="#e07260"/>
<rect x="1107.5" y="681.8" width="108.5" height="15.6" fill="#e07260"/>
<rect x="1240.0" y="741.8" width="230.0" height="15.6" fill="#e07260"/>
<rect x="1280.0" y="758.3" width="136.0" height="15.6" fill="#e07260"/>
<rect x="1325.0" y="775.8" width="186.0" height="15.6" fill="#e07260"/>
<rect x="1330.0" y="794.8" width="170.0" height="15.6" fill="#e07260"/>
<rect x="1331.0" y="812.8" width="151.5" height="15.6" fill="#e07260"/>
<rect x="1329.5" y="905.3" width="152.5" height="15.6" fill="#e07260"/>
<rect x="1368.0" y="966.8" width="190.0" height="15.6" fill="#e07260"/>
<text x="710.0" y="281.2" font-size="13.60" font-weight="700" fill="#fdf3ec" letter-spacing="0.741" text-anchor="start" >FORO DI ORTONA</text>
<text x="757.5" y="318.7" font-size="13.60" font-weight="700" fill="#fdf3ec" letter-spacing="0.764" text-anchor="start" >LIDO RICCIO</text>
<text x="812.0" y="340.7" font-size="13.60" font-weight="700" fill="#fdf3ec" letter-spacing="0.645" text-anchor="start" >PUNTA FERRUCCIO</text>
<text x="825.0" y="358.2" font-size="13.60" font-weight="700" fill="#fdf3ec" letter-spacing="0.703" text-anchor="start" >PUNTA LUNGA</text>
<text x="848.0" y="376.2" font-size="13.60" font-weight="700" fill="#fdf3ec" letter-spacing="0.573" text-anchor="start" >RIPARI DI GIOBBE</text>
<text x="848.0" y="395.2" font-size="13.60" font-weight="700" fill="#fdf3ec" letter-spacing="0.754" text-anchor="start" >PORTO DI ORTONA</text>
<text x="870.5" y="431.7" font-size="13.60" font-weight="700" fill="#fdf3ec" letter-spacing="0.600" text-anchor="start" >PUNTA DI ACQUABELLA</text>
<text x="913.0" y="494.2" font-size="13.60" font-weight="700" fill="#fdf3ec" letter-spacing="0.778" text-anchor="start" >MARINA DI SAN VITO</text>
<text x="967.5" y="541.7" font-size="13.60" font-weight="700" fill="#fdf3ec" letter-spacing="0.462" text-anchor="start" >VALLEVÒ</text>
<text x="987.5" y="560.2" font-size="13.60" font-weight="700" fill="#fdf3ec" letter-spacing="0.386" text-anchor="start" >LA FOCE</text>
<text x="994.0" y="585.7" font-size="13.60" font-weight="700" fill="#fdf3ec" letter-spacing="0.607" text-anchor="start" >MARINA DI FOSSACESIA</text>
<text x="1044.5" y="635.7" font-size="13.60" font-weight="700" fill="#fdf3ec" letter-spacing="0.467" text-anchor="start" >BORGATA MARINA</text>
<text x="1069.0" y="654.7" font-size="13.60" font-weight="700" fill="#fdf3ec" letter-spacing="0.769" text-anchor="start" >MARINA DI TORINO DI SANGRO</text>
<text x="1127.5" y="694.7" font-size="13.60" font-weight="700" fill="#fdf3ec" letter-spacing="0.566" text-anchor="start" >LE MORGE</text>
<text x="1260.0" y="754.7" font-size="13.60" font-weight="700" fill="#fdf3ec" letter-spacing="0.756" text-anchor="start" >MARINA DI CASALBORDINO</text>
<text x="1300.0" y="771.2" font-size="13.60" font-weight="700" fill="#fdf3ec" letter-spacing="0.749" text-anchor="start" >PUNTA ADERCI</text>
<text x="1344.0" y="788.7" font-size="13.60" font-weight="700" fill="#fdf3ec" letter-spacing="0.791" text-anchor="start" >PUNTA DELLA PENNA</text>
<text x="1349.0" y="807.7" font-size="13.60" font-weight="700" fill="#fdf3ec" letter-spacing="0.551" text-anchor="start" >PUNTA DELL'OPERA</text>
<text x="1350.0" y="825.7" font-size="13.60" font-weight="700" fill="#fdf3ec" letter-spacing="0.952" text-anchor="start" >PUNTA VIGNOLA</text>
<text x="1349.5" y="918.2" font-size="13.60" font-weight="700" fill="#fdf3ec" letter-spacing="0.221" text-anchor="start" >MARINA DI VASTO</text>
<text x="1386.0" y="979.7" font-size="13.60" font-weight="700" fill="#fdf3ec" letter-spacing="0.672" text-anchor="start" >MARINA DI SAN SALVO</text>
<path d="M683.64,280.84 A8.30,8.30 0 1 1 696.36,280.84 L690.00,288.70 Z" fill="#fffdfb" stroke="#e07260" stroke-width="1.80" stroke-linejoin="round"/>
<circle cx="690.00" cy="275.50" r="3.80" fill="#e07260"/>
<path d="M731.64,318.34 A8.30,8.30 0 1 1 744.36,318.34 L738.00,326.20 Z" fill="#fffdfb" stroke="#e07260" stroke-width="1.80" stroke-linejoin="round"/>
<circle cx="738.00" cy="313.00" r="3.80" fill="#e07260"/>
<path d="M785.64,340.34 A8.30,8.30 0 1 1 798.36,340.34 L792.00,348.20 Z" fill="#fffdfb" stroke="#e07260" stroke-width="1.80" stroke-linejoin="round"/>
<circle cx="792.00" cy="335.00" r="3.80" fill="#e07260"/>
<path d="M798.64,357.84 A8.30,8.30 0 1 1 811.36,357.84 L805.00,365.70 Z" fill="#fffdfb" stroke="#e07260" stroke-width="1.80" stroke-linejoin="round"/>
<circle cx="805.00" cy="352.50" r="3.80" fill="#e07260"/>
<path d="M821.14,375.84 A8.30,8.30 0 1 1 833.86,375.84 L827.50,383.70 Z" fill="#fffdfb" stroke="#e07260" stroke-width="1.80" stroke-linejoin="round"/>
<circle cx="827.50" cy="370.50" r="3.80" fill="#e07260"/>
<path d="M821.14,394.84 A8.30,8.30 0 1 1 833.86,394.84 L827.50,402.70 Z" fill="#fffdfb" stroke="#e07260" stroke-width="1.80" stroke-linejoin="round"/>
<circle cx="827.50" cy="389.50" r="3.80" fill="#e07260"/>
<path d="M844.64,431.34 A8.30,8.30 0 1 1 857.36,431.34 L851.00,439.20 Z" fill="#fffdfb" stroke="#e07260" stroke-width="1.80" stroke-linejoin="round"/>
<circle cx="851.00" cy="426.00" r="3.80" fill="#e07260"/>
<path d="M886.14,493.84 A8.30,8.30 0 1 1 898.86,493.84 L892.50,501.70 Z" fill="#fffdfb" stroke="#e07260" stroke-width="1.80" stroke-linejoin="round"/>
<circle cx="892.50" cy="488.50" r="3.80" fill="#e07260"/>
<path d="M941.14,541.34 A8.30,8.30 0 1 1 953.86,541.34 L947.50,549.20 Z" fill="#fffdfb" stroke="#e07260" stroke-width="1.80" stroke-linejoin="round"/>
<circle cx="947.50" cy="536.00" r="3.80" fill="#e07260"/>
<path d="M961.14,559.84 A8.30,8.30 0 1 1 973.86,559.84 L967.50,567.70 Z" fill="#fffdfb" stroke="#e07260" stroke-width="1.80" stroke-linejoin="round"/>
<circle cx="967.50" cy="554.50" r="3.80" fill="#e07260"/>
<path d="M967.64,585.34 A8.30,8.30 0 1 1 980.36,585.34 L974.00,593.20 Z" fill="#fffdfb" stroke="#e07260" stroke-width="1.80" stroke-linejoin="round"/>
<circle cx="974.00" cy="580.00" r="3.80" fill="#e07260"/>
<path d="M1018.14,635.34 A8.30,8.30 0 1 1 1030.86,635.34 L1024.50,643.20 Z" fill="#fffdfb" stroke="#e07260" stroke-width="1.80" stroke-linejoin="round"/>
<circle cx="1024.50" cy="630.00" r="3.80" fill="#e07260"/>
<path d="M1042.64,654.34 A8.30,8.30 0 1 1 1055.36,654.34 L1049.00,662.20 Z" fill="#fffdfb" stroke="#e07260" stroke-width="1.80" stroke-linejoin="round"/>
<circle cx="1049.00" cy="649.00" r="3.80" fill="#e07260"/>
<path d="M1101.14,694.34 A8.30,8.30 0 1 1 1113.86,694.34 L1107.50,702.20 Z" fill="#fffdfb" stroke="#e07260" stroke-width="1.80" stroke-linejoin="round"/>
<circle cx="1107.50" cy="689.00" r="3.80" fill="#e07260"/>
<path d="M1233.64,754.34 A8.30,8.30 0 1 1 1246.36,754.34 L1240.00,762.20 Z" fill="#fffdfb" stroke="#e07260" stroke-width="1.80" stroke-linejoin="round"/>
<circle cx="1240.00" cy="749.00" r="3.80" fill="#e07260"/>
<path d="M1273.64,770.84 A8.30,8.30 0 1 1 1286.36,770.84 L1280.00,778.70 Z" fill="#fffdfb" stroke="#e07260" stroke-width="1.80" stroke-linejoin="round"/>
<circle cx="1280.00" cy="765.50" r="3.80" fill="#e07260"/>
<path d="M1318.64,788.34 A8.30,8.30 0 1 1 1331.36,788.34 L1325.00,796.20 Z" fill="#fffdfb" stroke="#e07260" stroke-width="1.80" stroke-linejoin="round"/>
<circle cx="1325.00" cy="783.00" r="3.80" fill="#e07260"/>
<path d="M1323.64,807.34 A8.30,8.30 0 1 1 1336.36,807.34 L1330.00,815.20 Z" fill="#fffdfb" stroke="#e07260" stroke-width="1.80" stroke-linejoin="round"/>
<circle cx="1330.00" cy="802.00" r="3.80" fill="#e07260"/>
<path d="M1324.64,825.34 A8.30,8.30 0 1 1 1337.36,825.34 L1331.00,833.20 Z" fill="#fffdfb" stroke="#e07260" stroke-width="1.80" stroke-linejoin="round"/>
<circle cx="1331.00" cy="820.00" r="3.80" fill="#e07260"/>
<path d="M1323.14,917.84 A8.30,8.30 0 1 1 1335.86,917.84 L1329.50,925.70 Z" fill="#fffdfb" stroke="#e07260" stroke-width="1.80" stroke-linejoin="round"/>
<circle cx="1329.50" cy="912.50" r="3.80" fill="#e07260"/>
<path d="M1361.64,979.34 A8.30,8.30 0 1 1 1374.36,979.34 L1368.00,987.20 Z" fill="#fffdfb" stroke="#e07260" stroke-width="1.80" stroke-linejoin="round"/>
<circle cx="1368.00" cy="974.00" r="3.80" fill="#e07260"/>
<rect x="390.0" y="169.6" width="125.0" height="14" fill="#4a7bbf"/>
<g transform="translate(396.3,172.2)" fill="#fffdfb">
<polygon points="5.2,0.2 13.6,0.2 12.2,2.3 7.6,2.3 3.7,9.4 0.3,9.4"/>
<polygon points="8.8,3.3 11.6,3.3 10.7,5.0 10.0,5.0 7.7,9.4 4.6,9.4 5.6,7.5 6.5,7.5"/>
</g>
<text x="414.6" y="181.5" font-size="12.30" font-weight="700" fill="#fdf3ec" letter-spacing="-0.162" text-anchor="start" >PESCARA C.LE</text>
<rect x="425.0" y="219.5" width="126.0" height="14" fill="#4a7bbf"/>
<g transform="translate(431.3,222.1)" fill="#fffdfb">
<polygon points="5.2,0.2 13.6,0.2 12.2,2.3 7.6,2.3 3.7,9.4 0.3,9.4"/>
<polygon points="8.8,3.3 11.6,3.3 10.7,5.0 10.0,5.0 7.7,9.4 4.6,9.4 5.6,7.5 6.5,7.5"/>
</g>
<text x="450.0" y="231.4" font-size="12.30" font-weight="700" fill="#fdf3ec" letter-spacing="-0.226" text-anchor="start" >PESCARA P.N.</text>
<rect x="437.5" y="236.8" width="128.5" height="14" fill="#4a7bbf"/>
<g transform="translate(443.8,239.4)" fill="#fffdfb">
<polygon points="5.2,0.2 13.6,0.2 12.2,2.3 7.6,2.3 3.7,9.4 0.3,9.4"/>
<polygon points="8.8,3.3 11.6,3.3 10.7,5.0 10.0,5.0 7.7,9.4 4.6,9.4 5.6,7.5 6.5,7.5"/>
</g>
<text x="460.6" y="248.7" font-size="12.30" font-weight="700" fill="#fdf3ec" letter-spacing="-0.056" text-anchor="start" >PESCARA TRIB.</text>
<rect x="438.7" y="290.4" width="188.3" height="14" fill="#4a7bbf"/>
<g transform="translate(445.0,293.0)" fill="#fffdfb">
<polygon points="5.2,0.2 13.6,0.2 12.2,2.3 7.6,2.3 3.7,9.4 0.3,9.4"/>
<polygon points="8.8,3.3 11.6,3.3 10.7,5.0 10.0,5.0 7.7,9.4 4.6,9.4 5.6,7.5 6.5,7.5"/>
</g>
<text x="463.2" y="302.3" font-size="12.30" font-weight="700" fill="#fdf3ec" letter-spacing="0.105" text-anchor="start" >FRANCAVILLA AL MARE</text>
<rect x="561.2" y="323.6" width="139.2" height="14" fill="#4a7bbf"/>
<g transform="translate(567.5,326.2)" fill="#fffdfb">
<polygon points="5.2,0.2 13.6,0.2 12.2,2.3 7.6,2.3 3.7,9.4 0.3,9.4"/>
<polygon points="8.8,3.3 11.6,3.3 10.7,5.0 10.0,5.0 7.7,9.4 4.6,9.4 5.6,7.5 6.5,7.5"/>
</g>
<text x="586.6" y="335.5" font-size="12.30" font-weight="700" fill="#fdf3ec" letter-spacing="0.128" text-anchor="start" >TOLLO CANOSA</text>
<rect x="699.0" y="377.1" width="93.0" height="14" fill="#4a7bbf"/>
<g transform="translate(705.3,379.7)" fill="#fffdfb">
<polygon points="5.2,0.2 13.6,0.2 12.2,2.3 7.6,2.3 3.7,9.4 0.3,9.4"/>
<polygon points="8.8,3.3 11.6,3.3 10.7,5.0 10.0,5.0 7.7,9.4 4.6,9.4 5.6,7.5 6.5,7.5"/>
</g>
<text x="723.0" y="389.0" font-size="12.30" font-weight="700" fill="#fdf3ec" letter-spacing="0.341" text-anchor="start" >ORTONA</text>
<rect x="691.0" y="492.8" width="172.0" height="14" fill="#4a7bbf"/>
<g transform="translate(697.3,495.4)" fill="#fffdfb">
<polygon points="5.2,0.2 13.6,0.2 12.2,2.3 7.6,2.3 3.7,9.4 0.3,9.4"/>
<polygon points="8.8,3.3 11.6,3.3 10.7,5.0 10.0,5.0 7.7,9.4 4.6,9.4 5.6,7.5 6.5,7.5"/>
</g>
<text x="716.0" y="504.7" font-size="12.30" font-weight="700" fill="#fdf3ec" letter-spacing="0.318" text-anchor="start" >SAN VITO LANCIANO</text>
<rect x="836.0" y="590.8" width="117.0" height="14" fill="#4a7bbf"/>
<g transform="translate(842.3,593.4)" fill="#fffdfb">
<polygon points="5.2,0.2 13.6,0.2 12.2,2.3 7.6,2.3 3.7,9.4 0.3,9.4"/>
<polygon points="8.8,3.3 11.6,3.3 10.7,5.0 10.0,5.0 7.7,9.4 4.6,9.4 5.6,7.5 6.5,7.5"/>
</g>
<text x="861.0" y="602.7" font-size="12.30" font-weight="700" fill="#fdf3ec" letter-spacing="0.428" text-anchor="start" >FOSSAC/T.S.</text>
<rect x="1175.0" y="866.3" width="128.0" height="14" fill="#4a7bbf"/>
<g transform="translate(1181.3,868.9)" fill="#fffdfb">
<polygon points="5.2,0.2 13.6,0.2 12.2,2.3 7.6,2.3 3.7,9.4 0.3,9.4"/>
<polygon points="8.8,3.3 11.6,3.3 10.7,5.0 10.0,5.0 7.7,9.4 4.6,9.4 5.6,7.5 6.5,7.5"/>
</g>
<text x="1199.0" y="878.2" font-size="12.30" font-weight="700" fill="#fdf3ec" letter-spacing="-0.102" text-anchor="start" >PORTO VASTO</text>
<rect x="1136.0" y="927.8" width="162.0" height="14" fill="#4a7bbf"/>
<g transform="translate(1142.3,930.4)" fill="#fffdfb">
<polygon points="5.2,0.2 13.6,0.2 12.2,2.3 7.6,2.3 3.7,9.4 0.3,9.4"/>
<polygon points="8.8,3.3 11.6,3.3 10.7,5.0 10.0,5.0 7.7,9.4 4.6,9.4 5.6,7.5 6.5,7.5"/>
</g>
<text x="1163.5" y="939.7" font-size="12.30" font-weight="700" fill="#fdf3ec" letter-spacing="-0.004" text-anchor="start" >VASTO SAN SALVO</text>
<path d="M510.40,180.36 A6.00,6.00 0 1 1 519.60,180.36 L515.00,186.70 Z" fill="#fffdfb" stroke="#4a7bbf" stroke-width="1.50" stroke-linejoin="round"/>
<circle cx="515.00" cy="176.50" r="2.60" fill="#4a7bbf"/>
<path d="M546.40,230.26 A6.00,6.00 0 1 1 555.60,230.26 L551.00,236.60 Z" fill="#fffdfb" stroke="#4a7bbf" stroke-width="1.50" stroke-linejoin="round"/>
<circle cx="551.00" cy="226.40" r="2.60" fill="#4a7bbf"/>
<path d="M561.40,247.56 A6.00,6.00 0 1 1 570.60,247.56 L566.00,253.90 Z" fill="#fffdfb" stroke="#4a7bbf" stroke-width="1.50" stroke-linejoin="round"/>
<circle cx="566.00" cy="243.70" r="2.60" fill="#4a7bbf"/>
<path d="M622.40,301.16 A6.00,6.00 0 1 1 631.60,301.16 L627.00,307.50 Z" fill="#fffdfb" stroke="#4a7bbf" stroke-width="1.50" stroke-linejoin="round"/>
<circle cx="627.00" cy="297.30" r="2.60" fill="#4a7bbf"/>
<path d="M695.80,334.36 A6.00,6.00 0 1 1 705.00,334.36 L700.40,340.70 Z" fill="#fffdfb" stroke="#4a7bbf" stroke-width="1.50" stroke-linejoin="round"/>
<circle cx="700.40" cy="330.50" r="2.60" fill="#4a7bbf"/>
<path d="M787.40,387.86 A6.00,6.00 0 1 1 796.60,387.86 L792.00,394.20 Z" fill="#fffdfb" stroke="#4a7bbf" stroke-width="1.50" stroke-linejoin="round"/>
<circle cx="792.00" cy="384.00" r="2.60" fill="#4a7bbf"/>
<path d="M858.40,503.56 A6.00,6.00 0 1 1 867.60,503.56 L863.00,509.90 Z" fill="#fffdfb" stroke="#4a7bbf" stroke-width="1.50" stroke-linejoin="round"/>
<circle cx="863.00" cy="499.70" r="2.60" fill="#4a7bbf"/>
<path d="M948.40,601.56 A6.00,6.00 0 1 1 957.60,601.56 L953.00,607.90 Z" fill="#fffdfb" stroke="#4a7bbf" stroke-width="1.50" stroke-linejoin="round"/>
<circle cx="953.00" cy="597.70" r="2.60" fill="#4a7bbf"/>
<path d="M1298.40,877.06 A6.00,6.00 0 1 1 1307.60,877.06 L1303.00,883.40 Z" fill="#fffdfb" stroke="#4a7bbf" stroke-width="1.50" stroke-linejoin="round"/>
<circle cx="1303.00" cy="873.20" r="2.60" fill="#4a7bbf"/>
<path d="M1293.40,938.56 A6.00,6.00 0 1 1 1302.60,938.56 L1298.00,944.90 Z" fill="#fffdfb" stroke="#4a7bbf" stroke-width="1.50" stroke-linejoin="round"/>
<circle cx="1298.00" cy="934.70" r="2.60" fill="#4a7bbf"/>
<text x="433.0" y="208.0" font-size="16.20" font-weight="700" fill="#33598a" letter-spacing="0.247" text-anchor="start" stroke="#33598a" stroke-width="1.10" stroke-linejoin="round" >PESCARA</text>
<circle cx="539.4" cy="201.2" r="16.7" fill="#fffdfb" stroke="#33598a" stroke-width="4.1"/>
<circle cx="539.4" cy="201.2" r="8.6" fill="#fffdfb" stroke="#33598a" stroke-width="3.9"/>
<g fill="#33598a" stroke="none">
<path d="M408.5,201.2 l2.2,-1 2.4,2.1 3.6,-1.5 -4.2,-3.6 2.4,-1 6.2,2.8 3.4,-1.4 c1.6,-0.6 2.6,0.8 1,1.8 l-3.2,1.5 -1.6,7.0 -2.2,1 -0.6,-6.0 -3.6,1.6 c-1.8,0.7 -3.6,0.4 -4.4,-0.8 z"/>
<rect x="408.7" y="209.4" width="17" height="1.3"/>
</g>
<text x="756.5" y="118.7" font-size="49.00" font-weight="400" fill="#3a5b8c" letter-spacing="9.650" text-anchor="start" stroke="#7dbfbe" stroke-width="0.35" stroke-linejoin="round" >MOBILITÀ SOSTENIBILE</text>
<text x="0.0" y="0.0" font-size="22.00" font-weight="700" fill="#3a5b8c" letter-spacing="4.622" text-anchor="start" stroke="#3a5b8c" stroke-width="1.80" stroke-linejoin="round" transform="translate(895.0,191.2) scale(1.1000,1)" >SULLA</text>
<text x="0.0" y="0.0" font-size="66.50" font-weight="700" fill="#3a5b8c" letter-spacing="8.638" text-anchor="start" stroke="#3a5b8c" stroke-width="3.00" stroke-linejoin="round" transform="translate(1010.5,191.2) scale(1.0400,1)" >COSTA</text>
<text x="0.0" y="0.0" font-size="22.00" font-weight="700" fill="#3a5b8c" letter-spacing="3.481" text-anchor="start" stroke="#3a5b8c" stroke-width="1.80" stroke-linejoin="round" transform="translate(975.5,275.0) scale(1.1000,1)" >DEI</text>
<text x="1044.5" y="275.0" font-size="68.50" font-weight="700" fill="#3a5b8c" letter-spacing="5.003" text-anchor="start" stroke="#3a5b8c" stroke-width="3.00" stroke-linejoin="round" >TRABOCCHI</text>
<text x="0.0" y="0.0" font-size="21.80" font-weight="700" fill="#33598a" letter-spacing="1.343" text-anchor="start" stroke="#33598a" stroke-width="1.40" stroke-linejoin="round" transform="translate(74.5,200.0) scale(1.0500,1)" >SERVIZI</text>
<text x="0.0" y="0.0" font-size="21.80" font-weight="700" fill="#33598a" letter-spacing="1.919" text-anchor="start" stroke="#33598a" stroke-width="1.40" stroke-linejoin="round" transform="translate(74.5,234.3) scale(1.0500,1)" >DISPONIBILI</text>
<rect x="206.7" y="277.3" width="59.5" height="8.3" fill="#f7d6bb"/>
<text x="208.5" y="286.7" font-size="17.20" font-weight="700" fill="#33598a" letter-spacing="2.237" text-anchor="start" stroke="#33598a" stroke-width="0.30" stroke-linejoin="round" >Treni</text>
<text x="208.5" y="307.7" font-size="16.60" font-weight="400" fill="#4a6796" letter-spacing="1.445" text-anchor="start" >Tutte le località sulla</text>
<text x="208.5" y="328.0" font-size="16.60" font-weight="400" fill="#4a6796" letter-spacing="1.382" text-anchor="start" >Costa dei Trabocchi</text>
<text x="208.5" y="348.3" font-size="16.60" font-weight="400" fill="#4a6796" letter-spacing="1.567" text-anchor="start" >sono raggiungibili con</text>
<text x="208.5" y="369.0" font-size="16.60" font-weight="400" fill="#4a6796" letter-spacing="1.449" text-anchor="start" >treni regionali dotati di</text>
<text x="208.5" y="389.5" font-size="16.60" font-weight="400" fill="#4a6796" letter-spacing="1.619" text-anchor="start" >portabici</text>
<rect x="206.2" y="440.3" width="119.3" height="8.5" fill="#f7d6bb"/>
<text x="208.5" y="449.3" font-size="17.20" font-weight="700" fill="#33598a" letter-spacing="2.518" text-anchor="start" stroke="#33598a" stroke-width="0.30" stroke-linejoin="round" >Bike Station</text>
<text x="208.5" y="470.0" font-size="16.60" font-weight="400" fill="#4a6796" letter-spacing="2.080" text-anchor="start" >All'interno o in prossimità</text>
<text x="208.5" y="490.4" font-size="16.60" font-weight="400" fill="#4a6796" letter-spacing="2.127" text-anchor="start" >delle stazioni è possibile</text>
<text x="208.5" y="511.0" font-size="16.60" font-weight="400" fill="#4a6796" letter-spacing="2.179" text-anchor="start" >noleggiare bici a costo ridotto</text>
<text x="208.5" y="531.3" font-size="16.60" font-weight="400" fill="#4a6796" letter-spacing="1.439" text-anchor="start" >ed usufruire di altri servizi di mobilità</text>
<text x="208.5" y="551.8" font-size="16.60" font-weight="400" fill="#4a6796" letter-spacing="2.035" text-anchor="start" >(informazioni, connessioni con linea</text>
<text x="208.5" y="572.4" font-size="16.60" font-weight="400" fill="#4a6796" letter-spacing="2.148" text-anchor="start" >bus per le spiagge, parcheggio)</text>
<rect x="208.0" y="621.7" width="231.8" height="10.1" fill="#f7d6bb"/>
<text x="211.2" y="630.8" font-size="17.20" font-weight="700" fill="#33598a" letter-spacing="2.727" text-anchor="start" stroke="#33598a" stroke-width="0.30" stroke-linejoin="round" >Parcheggi di scambio</text>
<text x="211.2" y="652.1" font-size="16.60" font-weight="400" fill="#4a6796" letter-spacing="2.080" text-anchor="start" >Ubicati ad ovest del tracciato ferroviario,</text>
<text x="211.2" y="672.7" font-size="16.60" font-weight="400" fill="#4a6796" letter-spacing="2.157" text-anchor="start" >consentono agli automobilisti di andare al mare</text>
<text x="211.2" y="693.3" font-size="16.60" font-weight="400" fill="#4a6796" letter-spacing="2.250" text-anchor="start" >con l'autobus o noleggiando una bicicletta per</text>
<text x="211.2" y="714.0" font-size="16.60" font-weight="400" fill="#4a6796" letter-spacing="2.148" text-anchor="start" >la giornata</text>
<rect x="208.0" y="761.8" width="110.0" height="10.6" fill="#f7d6bb"/>
<text x="211.2" y="771.7" font-size="17.20" font-weight="700" fill="#33598a" letter-spacing="2.765" text-anchor="start" stroke="#33598a" stroke-width="0.30" stroke-linejoin="round" >Linee bus</text>
<text x="211.2" y="792.4" font-size="16.60" font-weight="400" fill="#4a6796" letter-spacing="2.113" text-anchor="start" >Consentono di raggiungere le spiagge a chi arriva</text>
<text x="211.2" y="813.0" font-size="16.60" font-weight="400" fill="#4a6796" letter-spacing="1.783" text-anchor="start" >in treno o lascia la macchina ai parcheggi scambiatori</text>
<text x="211.2" y="833.6" font-size="16.60" font-weight="400" fill="#4a6796" letter-spacing="1.880" text-anchor="start" >(attenzione agli orari!)</text>
<rect x="207.5" y="905.0" width="103.5" height="10.0" fill="#f7d6bb"/>
<text x="211.2" y="913.5" font-size="17.20" font-weight="700" fill="#33598a" letter-spacing="2.659" text-anchor="start" stroke="#33598a" stroke-width="0.30" stroke-linejoin="round" >Bike bus</text>
<text x="211.2" y="935.0" font-size="16.60" font-weight="400" fill="#4a6796" letter-spacing="2.102" text-anchor="start" >Bus con portabici consentono ai ciclisti di salire dalla</text>
<text x="211.2" y="955.5" font-size="16.60" font-weight="400" fill="#4a6796" letter-spacing="2.053" text-anchor="start" >via verde alle città d'arte in collina (Lanciano-Stazione</text>
<text x="211.2" y="976.0" font-size="16.60" font-weight="400" fill="#4a6796" letter-spacing="1.890" text-anchor="start" >di Fossacesia-Torino di Sangro e Vasto San Salvo verso</text>
<text x="211.2" y="996.5" font-size="16.60" font-weight="400" fill="#4a6796" letter-spacing="1.606" text-anchor="start" >il mare).</text>
<circle cx="80.6" cy="341.5" r="7.9" fill="#f7d3b6"/>
<circle cx="123.7" cy="341.5" r="7.9" fill="#f7d3b6"/>
<circle cx="141.0" cy="341.5" r="7.9" fill="#f7d3b6"/>
<path d="M38,295.4 H136 C146,295.4 150,299 155,303 L166,312.5 C174,319.5 173,339.6 160,339.6 H38" fill="#fcefe7" stroke="#4a7bbf" stroke-width="2"/>
<path d="M0,295.4 H36 M0,339.6 H36" stroke="#4a7bbf" stroke-width="2" stroke-dasharray="5.2 4" fill="none"/>
<rect x="73.9" y="304.6" width="41.5" height="13.4" fill="none" stroke="#4a7bbf" stroke-width="2"/>
<polygon points="129.6,304.6 137.5,304.6 153.2,318 129.6,318" fill="none" stroke="#4a7bbf" stroke-width="2" stroke-linejoin="miter"/>
<circle cx="103.3" cy="494.7" r="12.7" fill="#f7d3b6"/><circle cx="145.4" cy="494.7" r="13.2" fill="#f7d3b6"/>
<g fill="none" stroke="#4a7bbf" stroke-width="2" stroke-linejoin="miter">
<path d="M105,466 H113.2 M109.6,466 L113.4,474.6 Q126,488 144.8,475.2 M113.4,475 L102.9,495.1 H124.3 Z M124.3,495.1 L144.6,475.6 M144.9,495.1 V462.9 H147.8 Q150.6,462.4 151.6,459.4"/>
</g>
<circle cx="103.7" cy="697.5" r="9.6" fill="#f7d3b6"/><circle cx="138.7" cy="697.5" r="9.6" fill="#f7d3b6"/>
<g fill="none" stroke="#4a7bbf" stroke-width="2">
<rect x="103.4" y="625.8" width="22" height="22.2"/>
<path d="M96.3,658 H131.7 M103.7,658 V663 M125.2,658 V663"/>
<path d="M90.4,697 H85.8 V680 L98.9,663 H129.1 L146.2,676.5 L163.2,680.4 V697 H152.3 M116.4,697 H125.2 M119.5,663.5 V697"/>
<path d="M93.4,677 L102,666 H116 V677 Z M120.4,666 H127.8 L138.7,677 H120.4"/>
<path d="M87,682 H91.2 M157.4,684 H162.4" stroke-width="2.6"/><path d="M122,680.7 H125.8" stroke-width="1.6"/>
</g>
<text x="108.6" y="643.6" font-size="18.50" font-weight="700" fill="#4a7bbf" letter-spacing="0.000" text-anchor="start" >P</text>
<g transform="translate(0,0.0)">
<circle cx="96.2" cy="822.7" r="11.8" fill="#f7d3b6"/><circle cx="162" cy="822.7" r="11.8" fill="#f7d3b6"/>
<g fill="none" stroke="#4a7bbf" stroke-width="2">
<path d="M79.4,822.7 H67.6 V771 Q67.6,765 73.6,765 H176 Q180.5,765 182,769.5 L190.7,789.5 V822.7 H177.2 M113.7,822.7 H145.7"/>
<path d="M72,793.4 V774 Q72,769.5 76.5,769.5 H97.4 V793.4 Z M101.9,769.5 H127.2 V793.4 H101.9 Z M132.2,769.5 H158.1 V793.4 H132.2 Z M162.6,769.5 H174.8 Q177.6,769.5 178.8,772.5 L186,789 Q187,793.4 182.5,793.4 H162.6 Z"/>
<path d="M67.6,776.6 H64.6 Q63.8,779.6 61.4,779.4 Q59,779 58.6,777 M60.8,788.4 V800.7 L67.6,812"/>
</g></g>
<g transform="translate(0,157.4)">
<circle cx="96.2" cy="822.7" r="11.8" fill="#f7d3b6"/><circle cx="162" cy="822.7" r="11.8" fill="#f7d3b6"/>
<g fill="none" stroke="#4a7bbf" stroke-width="2">
<path d="M79.4,822.7 H67.6 V771 Q67.6,765 73.6,765 H176 Q180.5,765 182,769.5 L190.7,789.5 V822.7 H177.2 M113.7,822.7 H145.7"/>
<path d="M72,793.4 V774 Q72,769.5 76.5,769.5 H97.4 V793.4 Z M101.9,769.5 H127.2 V793.4 H101.9 Z M132.2,769.5 H158.1 V793.4 H132.2 Z M162.6,769.5 H174.8 Q177.6,769.5 178.8,772.5 L186,789 Q187,793.4 182.5,793.4 H162.6 Z"/>
<path d="M67.6,776.6 H64.6 Q63.8,779.6 61.4,779.4 Q59,779 58.6,777 M60.8,788.4 V800.7 L67.6,812"/>
</g></g>
<g fill="none" stroke="#4a7bbf" stroke-width="1.8">
<circle cx="98.7" cy="907" r="12.6"/><circle cx="140.7" cy="907" r="12.6"/>
<path d="M100.7,878 H108.6 M104.6,878 L107.5,887.6 Q121,899.5 140.4,886.4 M107.5,888 L99,906.7 H119.9 Z M119.9,906.7 L140.4,887 M140.7,906.7 V875 L144,874.6 Q146.4,874 147,871.6"/>
</g>
</svg>
</body></html>
